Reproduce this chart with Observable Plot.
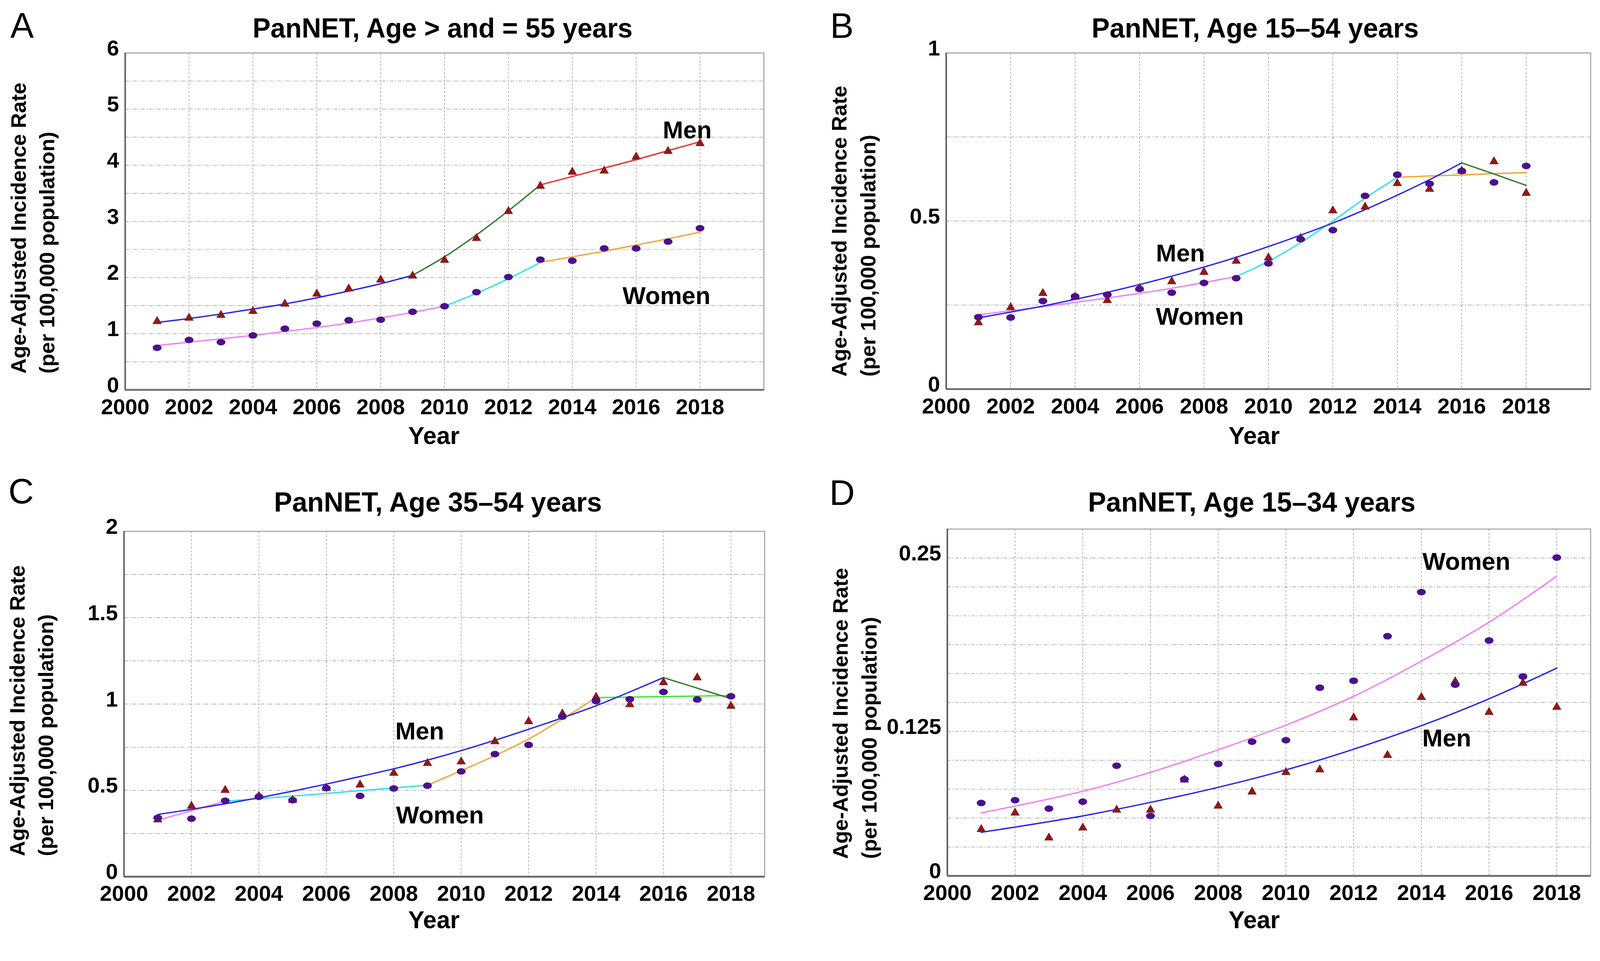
<!DOCTYPE html>
<html>
<head>
<meta charset="utf-8">
<script src="https://cdn.jsdelivr.net/npm/d3@7"></script>
<script src="https://cdn.jsdelivr.net/npm/@observablehq/plot@0.6"></script>
<style>
  html, body { margin: 0; padding: 0; background: #fff; overflow: hidden; }
  #fig { position: relative; width: 4186px; height: 2459px; overflow: hidden; background: #fff; color: #000;
         font-family: "Liberation Sans", Arial, Helvetica, sans-serif; }
  .abs { position: absolute; white-space: nowrap; }
</style>
</head>
<body>
<div id="fig"></div>
<script>
// ---------------- DATA ----------------
const years = [2001,2002,2003,2004,2005,2006,2007,2008,2009,2010,2011,2012,2013,2014,2015,2016,2017,2018];
const xTickYears = [2000,2002,2004,2006,2008,2010,2012,2014,2016,2018];
const xGridYears = [2002,2004,2006,2008,2010,2012,2014,2016,2018];

// Panel A: age >= 55
const menA   = [1.22,1.28,1.33,1.40,1.53,1.71,1.80,1.96,2.03,2.31,2.70,3.18,3.63,3.88,3.90,4.15,4.25,4.39];
const womenA = [0.75,0.89,0.85,0.97,1.09,1.18,1.24,1.25,1.39,1.49,1.74,2.01,2.32,2.30,2.52,2.52,2.64,2.88];
const menFitA = [
  [[2001,1.20],[2002,1.27],[2003,1.35],[2004,1.44],[2005,1.53],[2006,1.64],[2007,1.76],[2008,1.89],[2009,2.04]],
  [[2009,2.04],[2010,2.37],[2011,2.76],[2012,3.19],[2013,3.65]],
  [[2013,3.65],[2014,3.80],[2015,3.95],[2016,4.10],[2017,4.26],[2018,4.42]]
];
const womenFitA = [
  [[2001,0.79],[2002,0.85],[2003,0.91],[2004,0.97],[2005,1.04],[2006,1.11],[2007,1.19],[2008,1.28],[2009,1.38],[2010,1.49]],
  [[2010,1.49],[2011,1.72],[2012,1.98],[2013,2.27]],
  [[2013,2.27],[2014,2.37],[2015,2.47],[2016,2.58],[2017,2.69],[2018,2.81]]
];
const yTicksA = [0,1,2,3,4,5,6];
const yGridA = [0.5,1,1.5,2,2.5,3,3.5,4,4.5,5,5.5];
const labelsA = [{text:"Men", year:2017.6, rate:4.62}, {text:"Women", year:2016.95, rate:1.67}];

// Panel B: age 15-54
const menB   = [0.198,0.243,0.285,0.274,0.264,0.300,0.320,0.348,0.381,0.391,0.449,0.531,0.542,0.612,0.595,0.649,0.677,0.583];
const womenB = [0.214,0.213,0.262,0.276,0.281,0.298,0.287,0.316,0.330,0.374,0.446,0.473,0.575,0.638,0.611,0.649,0.615,0.664];
const menFitB = [
  [[2001,0.212],[2002,0.229],[2003,0.247],[2004,0.267],[2005,0.288],[2006,0.311],[2007,0.336],[2008,0.363],[2009,0.392],[2010,0.424],[2011,0.458],[2012,0.494],[2013,0.534],[2014,0.577],[2015,0.623],[2016,0.673]],
  [[2016,0.673],[2017,0.640],[2018,0.606]]
];
const womenFitB = [
  [[2001,0.221],[2002,0.233],[2003,0.245],[2004,0.258],[2005,0.271],[2006,0.285],[2007,0.300],[2008,0.317],[2009,0.335]],
  [[2009,0.335],[2010,0.380],[2011,0.436],[2012,0.500],[2013,0.568],[2014,0.630]],
  [[2014,0.630],[2015,0.634],[2016,0.637],[2017,0.641],[2018,0.644]]
];
const yTicksB = [0,0.5,1];
const yGridB = [0.25,0.5,0.75];
const labelsB = [{text:"Men", year:2007.27, rate:0.403}, {text:"Women", year:2007.87, rate:0.215}];

// Panel C: age 35-54
const menC   = [0.330,0.409,0.501,0.466,0.443,0.513,0.532,0.600,0.657,0.666,0.783,0.899,0.944,1.040,0.997,1.125,1.153,0.988];
const womenC = [0.341,0.336,0.440,0.463,0.443,0.513,0.468,0.511,0.527,0.610,0.710,0.763,0.927,1.017,1.028,1.070,1.026,1.045];
const menFitC = [
  [[2001,0.360],[2002,0.390],[2003,0.422],[2004,0.457],[2005,0.495],[2006,0.536],[2007,0.580],[2008,0.625],[2009,0.675],[2010,0.730],[2011,0.790],[2012,0.854],[2013,0.920],[2014,0.990],[2015,1.070],[2016,1.153]],
  [[2016,1.153],[2017,1.092],[2018,1.031]]
];
const womenFitC = [
  [[2001,0.327],[2002,0.382],[2003,0.437]],
  [[2003,0.437],[2004,0.452],[2005,0.467],[2006,0.482],[2007,0.498],[2008,0.514],[2009,0.530]],
  [[2009,0.530],[2010,0.614],[2011,0.701],[2012,0.797],[2013,0.913],[2014,1.037]],
  [[2014,1.037],[2015,1.040],[2016,1.043],[2017,1.046],[2018,1.049]]
];
const yTicksC = [0,0.5,1,1.5,2];
const yGridC = [0.25,0.5,0.75,1,1.25,1.5,1.75];
const labelsC = [{text:"Men", year:2008.77, rate:0.840}, {text:"Women", year:2009.37, rate:0.353}];

// Panel D: age 15-34 (the reference axis is piecewise: 0.125 sits on the 5th of 12 grid lines, 0.25 on the 11th)
const menD   = [0.0403,0.0545,0.0330,0.0416,0.0571,0.0571,0.0831,0.0605,0.0727,0.0896,0.0919,0.1349,0.1044,0.1496,0.1609,0.1388,0.1598,0.1425];
const womenD = [0.0631,0.0655,0.0582,0.0642,0.0953,0.0519,0.0836,0.0969,0.1161,0.1174,0.1565,0.1615,0.1936,0.2254,0.1587,0.1905,0.1646,0.2503];
const menFitD = [
  [[2001,0.0377],[2004,0.0519],[2006,0.0636],[2008,0.0766],[2010,0.0917],[2012,0.1096],[2014,0.1291],[2016,0.1485],[2018,0.1706]]
];
const womenFitD = [
  [[2001,0.0545],[2004,0.0732],[2006,0.0896],[2008,0.1091],[2010,0.1295],[2012,0.1503],[2014,0.1756],[2016,0.2037],[2018,0.2369]]
];
const yTicksD = [0,0.125,0.25];
const yGridD = [0.025,0.05,0.075,0.1,0.125,0.14583,0.16667,0.1875,0.20833,0.22917,0.25];
const yDomainD = [0,0.025,0.05,0.075,0.1,0.125,0.14583,0.16667,0.1875,0.20833,0.22917,0.25,0.27083];
const labelsD = [{text:"Women", year:2015.33, rate:0.247}, {text:"Men", year:2014.75, rate:0.1187}];

const titles = ["PanNET, Age > and = 55 years", "PanNET, Age 15\u201354 years", "PanNET, Age 35\u201354 years", "PanNET, Age 15\u201334 years"];
const letters = ["A","B","C","D"];
const yLabelLines = ["Age-Adjusted Incidence Rate", "(per 100,000 population)"];
const xLabel = "Year";

// ---------------- STYLE / LAYOUT ----------------
const FONT = '"Liberation Sans", Arial, Helvetica, sans-serif';
const BLUE = "#2626ea", DGREEN = "#2f7d2f", RED = "#e63430", VIOLET = "#ee82ee",
      CYAN = "#30e2f0", ORANGE = "#f6a233", LGREEN = "#3ee63e", PINK = "#f27ff2";
const MEN_FILL = "#8b1a1a", WOMEN_FILL = "#4a118c";

const panels = [
  {L:{left:0, top:0, width:2090, height:1200, ml:327, mr:92, mt:138, mb:181, xMax:2020},
   y:{domain:[0,6]}, yTicks:yTicksA, yGrid:yGridA, men:menA, women:womenA,
   menFit:menFitA, womenFit:womenFitA, menColors:[BLUE,DGREEN,RED], womenColors:[VIOLET,CYAN,ORANGE], labels:labelsA,
   title:{cx:1158, base:98, w:994}, letter:{x:27, capTop:32}, xl:{cx:1135, base:1161}, yl:{start:977}},
  {L:{left:2090, top:0, width:2096, height:1200, ml:385, mr:25, mt:138, mb:183, xMax:2020},
   y:{domain:[0,1]}, yTicks:yTicksB, yGrid:yGridB, men:menB, women:womenB,
   menFit:menFitB, womenFit:womenFitB, menColors:[BLUE,DGREEN], womenColors:[VIOLET,CYAN,ORANGE], labels:labelsB,
   title:{cx:3284, base:98, w:856}, letter:{x:2172, capTop:33}, xl:{cx:3281, base:1161}, yl:{start:985}},
  {L:{left:0, top:1230, width:2090, height:1229, ml:324, mr:90, mt:159, mb:167, xMax:2019},
   y:{domain:[0,2]}, yTicks:yTicksC, yGrid:yGridC, men:menC, women:womenC,
   menFit:menFitC, womenFit:womenFitC, menColors:[BLUE,DGREEN], womenColors:[VIOLET,CYAN,ORANGE,LGREEN], labels:labelsC,
   title:{cx:1146, base:1338, w:858}, letter:{x:22, capTop:1250}, xl:{cx:1135, base:2427}, yl:{start:2239}},
  {L:{left:2090, top:1230, width:2096, height:1229, ml:388, mr:25, mt:153, mb:169, xMax:2019},
   y:{domain:yDomainD}, yTicks:yTicksD, yGrid:yGridD, men:menD, women:womenD,
   menFit:menFitD, womenFit:womenFitD, menColors:[BLUE], womenColors:[PINK], labels:labelsD,
   title:{cx:3275, base:1338, w:857}, letter:{x:2170, capTop:1254}, xl:{cx:3281, base:2427}, yl:{start:2246}}
];

// slightly flattened ellipse marker (the reference dots are wider than tall)
const ellipse = {
  draw(ctx, size) {
    const r = Math.sqrt(size / Math.PI), rx = r * 1.15, ry = r * 0.85, k = 0.5523;
    ctx.moveTo(rx, 0);
    ctx.bezierCurveTo(rx, ry * k, rx * k, ry, 0, ry);
    ctx.bezierCurveTo(-rx * k, ry, -rx, ry * k, -rx, 0);
    ctx.bezierCurveTo(-rx, -ry * k, -rx * k, -ry, 0, -ry);
    ctx.bezierCurveTo(rx * k, -ry, rx, -ry * k, rx, 0);
    ctx.closePath();
  }
};

const fig = document.getElementById("fig");

function makePanel(p) {
  const L = p.L;
  const gridStyle = {stroke: "#b3b3b3", strokeWidth: 2};
  const marks = [
    Plot.ruleX(xGridYears, {...gridStyle, strokeDasharray: "6,4"}),
    Plot.ruleY(p.yGrid, {...gridStyle, strokeDasharray: "10,4,3,4"}),
    Plot.frame({stroke: "#a8a8a8", strokeWidth: 3}),
    Plot.ruleX([2000], {stroke: "#5c5c5c", strokeWidth: 4}),
    Plot.ruleY([0], {stroke: "#6e6e6e", strokeWidth: 5}),
    Plot.axisX(xTickYears, {tickSize: 0, tickPadding: 23, fontSize: 57, fontWeight: "bold",
                            fontFamily: FONT, label: null, tickFormat: d => String(d)}),
    Plot.axisY(p.yTicks, {tickSize: 0, tickPadding: 16, dy: -12, fontSize: 57, fontWeight: "bold",
                          fontFamily: FONT, label: null, tickFormat: d => String(d)})
  ];
  p.womenFit.forEach((seg, i) => marks.push(Plot.line(seg, {x: d => d[0], y: d => d[1],
      stroke: p.womenColors[i], strokeWidth: 3.5, curve: "catmull-rom"})));
  p.menFit.forEach((seg, i) => marks.push(Plot.line(seg, {x: d => d[0], y: d => d[1],
      stroke: p.menColors[i], strokeWidth: 3.5, curve: "catmull-rom"})));
  marks.push(Plot.dot(p.men, {x: years, y: p.men, symbol: "triangle", r: 9, fill: MEN_FILL, stroke: "none"}));
  marks.push(Plot.dot(p.women, {x: years, y: p.women, symbol: ellipse, r: 10, fill: WOMEN_FILL, stroke: "none"}));
  marks.push(Plot.text(p.labels, {x: "year", y: "rate", text: "text", fontSize: 64, fontWeight: "bold",
      fontFamily: FONT, fill: "#000"}));

  const svg = Plot.plot({
    width: L.width, height: L.height,
    marginLeft: L.ml, marginRight: L.mr, marginTop: L.mt, marginBottom: L.mb,
    x: {domain: [2000, L.xMax]},
    y: {type: "linear", domain: p.y.domain},
    style: {background: "transparent", overflow: "visible", fontFamily: FONT, fontWeight: "bold",
            fontSize: "57px", color: "#000", maxWidth: "none"},
    marks
  });
  const wrap = document.createElement("div");
  wrap.className = "abs";
  wrap.style.left = L.left + "px";
  wrap.style.top = L.top + "px";
  wrap.style.width = L.width + "px";
  wrap.style.height = L.height + "px";
  wrap.appendChild(svg);
  fig.appendChild(wrap);
}

function addDiv(html, css) {
  const d = document.createElement("div");
  d.className = "abs";
  d.innerHTML = html;
  Object.assign(d.style, css);
  fig.appendChild(d);
  return d;
}

// centred text, baseline-placed, horizontally fitted to the reference width
function fitted(text, cx, base, size, target) {
  const d = addDiv(text, {left: cx + "px", top: (base - 0.8465 * size) + "px", fontSize: size + "px",
                          lineHeight: size + "px", fontWeight: "bold", fontFamily: FONT});
  const w = d.offsetWidth;
  d.style.transformOrigin = "0 0";
  d.style.transform = `translateX(${-target / 2}px) scaleX(${target / w})`;
}

panels.forEach((p, i) => {
  makePanel(p);
  fitted(titles[i], p.title.cx, p.title.base, 72, p.title.w);
  fitted(xLabel, p.xl.cx, p.xl.base, 64, 134);
  addDiv(letters[i], {left: p.letter.x + "px", top: (p.letter.capTop - 12) + "px", fontSize: "92px",
                      lineHeight: "92px", fontWeight: "normal", fontFamily: FONT});
  addDiv(yLabelLines.join("<br>"), {left: (p.L.left + p.L.ml - 316) + "px", top: p.yl.start + "px",
                      fontSize: "55px", lineHeight: "75px", fontWeight: "bold", fontFamily: FONT,
                      transformOrigin: "0 0", transform: "rotate(-90deg)"});
});

// fit the 4186x2459 figure into whatever CSS viewport the browser actually provides
const vw = document.documentElement.clientWidth || window.innerWidth;
const vh = document.documentElement.clientHeight || window.innerHeight;
const s = Math.min(vw / 4186, vh / 2459);
if (s > 0 && Math.abs(s - 1) > 0.001) {
  fig.style.transformOrigin = "0 0";
  fig.style.transform = `scale(${s})`;
}
</script>
</body>
</html>
